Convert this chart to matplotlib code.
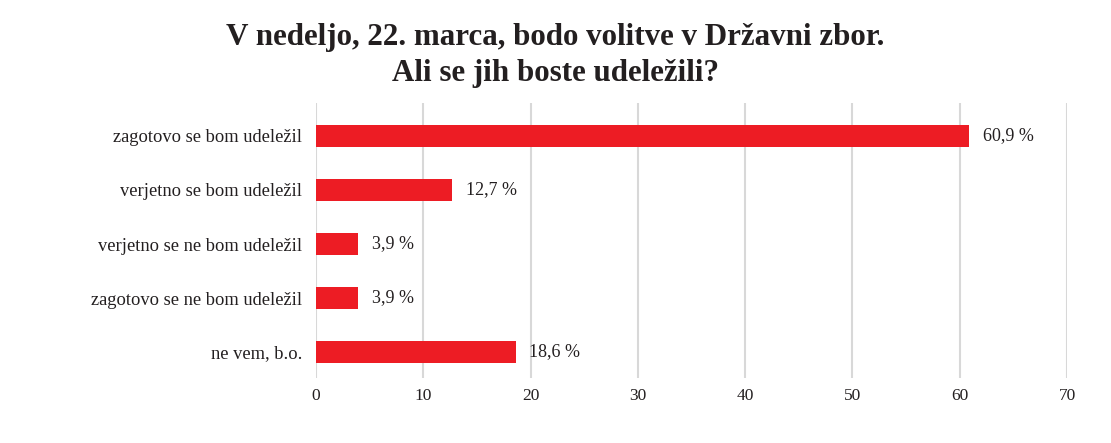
import matplotlib.pyplot as plt
import numpy as np

categories = ["zagotovo se bom udeležil", "verjetno se bom udeležil",
              "verjetno se ne bom udeležil", "zagotovo se ne bom udeležil",
              "ne vem, b.o."]
values = [60.9, 12.7, 3.9, 3.9, 18.6]
value_labels = ["60,9 %", "12,7 %", "3,9 %", "3,9 %", "18,6 %"]
xticks = [0, 10, 20, 30, 40, 50, 60, 70]

plt.rcParams['font.family'] = ['Liberation Serif', 'DejaVu Serif']
txt = "#231f20"

fig = plt.figure(figsize=(11.11, 4.43), dpi=100)
ax = fig.add_axes([316 / 1111, 1 - 378 / 443, (1067 - 316) / 1111, (378 - 103) / 443])

y = np.arange(len(categories))
ax.barh(y, values, height=0.41, color="#ed1c24", zorder=3)
for i in range(len(values)):
    ax.text(values[i] + 1.3, y[i], value_labels[i], va="center", ha="left",
            fontsize=13, color=txt)

ax.set_xlim(0, 70)
ax.set_ylim(4.48, -0.61)
ax.set_xticks(xticks)
ax.set_yticks(y)
ax.set_yticklabels(categories)
ax.tick_params(axis="both", length=0, colors=txt)
ax.tick_params(axis="y", pad=10, labelsize=13.3)
ax.tick_params(axis="x", pad=7, labelsize=12.5)
ax.grid(axis="x", color="#d8d8d8", linewidth=1.5, zorder=0)
for s in ax.spines.values():
    s.set_visible(False)

fig.text(0.5, 1 - 38 / 443, "V nedeljo, 22. marca, bodo volitve v Državni zbor.",
         ha="center", va="center", fontsize=22.3, fontweight="bold", color=txt)
fig.text(0.5, 1 - 73 / 443, "Ali se jih boste udeležili?",
         ha="center", va="center", fontsize=22.3, fontweight="bold", color=txt)

plt.savefig("out.png", dpi=100)
